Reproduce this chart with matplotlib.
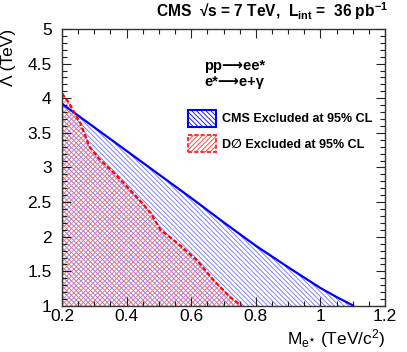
import matplotlib
matplotlib.use("Agg")
import matplotlib.pyplot as plt
from matplotlib.patches import Patch
from matplotlib.ticker import MultipleLocator

plt.rcParams['font.family'] = ['Liberation Sans', 'DejaVu Sans']
plt.rcParams['mathtext.fontset'] = 'custom'
plt.rcParams['mathtext.rm'] = 'Liberation Sans'
plt.rcParams['mathtext.it'] = 'Liberation Sans'
plt.rcParams['mathtext.bf'] = 'Liberation Sans:bold'
plt.rcParams['hatch.linewidth'] = 0.6

# CMS exclusion contour
cms_mass = [0.2, 0.3, 0.4, 0.5, 0.6, 0.7, 0.75, 0.8, 0.9, 1.0, 1.05, 1.104]
cms_lambda = [3.92, 3.58, 3.24, 2.90, 2.56, 2.21, 2.04, 1.87, 1.56, 1.26, 1.13, 1.0]

# D0 exclusion contour
d0_mass = [0.2, 0.222, 0.258, 0.285, 0.314, 0.37, 0.44, 0.475, 0.505, 0.557,
           0.618, 0.668, 0.72, 0.757]
d0_lambda = [4.07, 3.93, 3.63, 3.30, 3.13, 2.88, 2.53, 2.34, 2.10, 1.91,
             1.66, 1.38, 1.13, 1.0]

legend_labels = ["CMS Excluded at 95% CL", "D\u2205 Excluded at 95% CL"]

fig = plt.figure(figsize=(4.07, 3.52), dpi=100)
ax = fig.add_axes([62/407, 1-306/352, (385-62)/407, (306-29)/352])

ax.fill_between(cms_mass, 1.0, cms_lambda, facecolor='none', edgecolor='#7070ff',
                hatch='\\' * 7, linewidth=0)
ax.fill_between(d0_mass, 1.0, d0_lambda, facecolor='none', edgecolor='#ff6060',
                hatch='/' * 7, linewidth=0)
ax.plot(cms_mass, cms_lambda, color='#0000ff', lw=1.6, solid_capstyle='butt')
ax.plot(d0_mass, d0_lambda, color='#ff0000', lw=1.6, linestyle=(0, (2, 1)))

ax.set_xlim(0.2, 1.2)
ax.set_ylim(1, 5)
ax.xaxis.set_minor_locator(MultipleLocator(0.05))
ax.yaxis.set_minor_locator(MultipleLocator(0.1))
ax.set_xticks([0.2, 0.4, 0.6, 0.8, 1.0, 1.2])
ax.set_xticklabels(["0.2", "0.4", "0.6", "0.8", "1", "1.2"])
ax.set_yticks([1, 1.5, 2, 2.5, 3, 3.5, 4, 4.5, 5])
ax.set_yticklabels(["1", "1.5", "2", "2.5", "3", "3.5", "4", "4.5", "5"])
ax.tick_params(which='both', direction='in', top=True, right=True, labelsize=12.5,
               color='#222222')
ax.tick_params(which='major', length=6.5, width=0.8)
ax.tick_params(which='minor', length=3.5, width=0.8)
ax.tick_params(axis='x', pad=2.5)
ax.tick_params(axis='y', pad=7.5)
for s in ax.spines.values():
    s.set_linewidth(1.0)
    s.set_color('#333333')

ax.set_xlabel(r"M$_{\mathregular{e}^{\star}}$ (TeV/c$^{2}$)", fontsize=12.5,
              loc='right', labelpad=2)
ax.set_ylabel("\u039b (TeV)", fontsize=12.5, loc='top', labelpad=8)

handles = [Patch(facecolor='none', edgecolor='#0000ff', hatch='\\' * 7, lw=1.5),
           Patch(facecolor='none', edgecolor='#ff3333', hatch='/' * 7, lw=1.5,
                 linestyle=(0, (2, 1)))]
leg = ax.legend(handles, legend_labels, loc='upper left', frameon=False,
                bbox_to_anchor=(188/407, 1-110/352), bbox_transform=fig.transFigure,
                borderpad=0, borderaxespad=0, handlelength=2.2, handleheight=1.67,
                handletextpad=0.5, labelspacing=0.7,
                prop={'weight': 'bold', 'size': 9})

fig.text(388/407, 1-17.5/352,
         "CMS  \u221As = 7 TeV,  L$_{\\mathbf{int}}$ =  36 pb$^{\\mathbf{-1}}$",
         ha='right', va='baseline', fontsize=11.2, fontweight='bold')
fig.text(204/407, 1-70/352, "pp\u27f6ee*", ha='left', va='baseline',
         fontsize=10.5, fontweight='bold')
fig.text(204/407, 1-86/352, "e*\u27f6e+\u03b3", ha='left', va='baseline',
         fontsize=10.5, fontweight='bold')

fig.savefig("out.png", dpi=100)
